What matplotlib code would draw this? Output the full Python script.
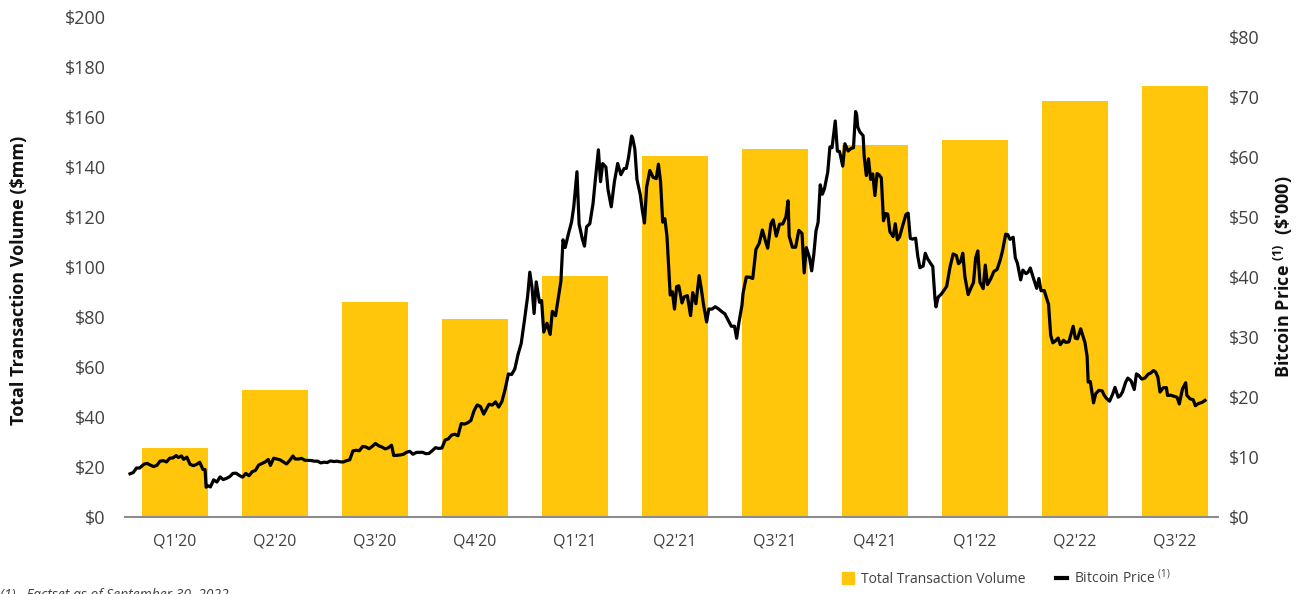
import numpy as np
import matplotlib
matplotlib.use("Agg")
import matplotlib.pyplot as plt
from matplotlib.lines import Line2D

plt.rcParams["font.family"] = ["Open Sans", "DejaVu Sans"]
plt.rcParams["mathtext.fontset"] = "custom"
plt.rcParams["mathtext.rm"] = "Open Sans"

# Quarterly transaction volume ($mm)
quarters = ["Q1'20", "Q2'20", "Q3'20", "Q4'20", "Q1'21", "Q2'21",
            "Q3'21", "Q4'21", "Q1'22", "Q2'22", "Q3'22"]
volume = [27.5, 50.8, 86.0, 79.2, 96.4, 144.3, 147.1, 148.9, 150.7, 166.3, 172.4]

left_ticks = [0, 20, 40, 60, 80, 100, 120, 140, 160, 180, 200]
right_ticks = [0, 10, 20, 30, 40, 50, 60, 70, 80]

# Bitcoin price ($'000), sampled every few days
price_dates = [
    "2020-01-01", "2020-01-04", "2020-01-07", "2020-01-10", "2020-01-14", "2020-01-17",
    "2020-01-20", "2020-01-23", "2020-01-26", "2020-01-29", "2020-02-01", "2020-02-04",
    "2020-02-07", "2020-02-10", "2020-02-13", "2020-02-15", "2020-02-18", "2020-02-20",
    "2020-02-23", "2020-02-26", "2020-02-29", "2020-03-03", "2020-03-06", "2020-03-09",
    "2020-03-11", "2020-03-12", "2020-03-14", "2020-03-16", "2020-03-19", "2020-03-22",
    "2020-03-25", "2020-03-28", "2020-03-31", "2020-04-03", "2020-04-06", "2020-04-09",
    "2020-04-12", "2020-04-15", "2020-04-18", "2020-04-21", "2020-04-24", "2020-04-27",
    "2020-04-30", "2020-05-03", "2020-05-06", "2020-05-09", "2020-05-11", "2020-05-14",
    "2020-05-17", "2020-05-20", "2020-05-23", "2020-05-26", "2020-05-29", "2020-06-01",
    "2020-06-03", "2020-06-06", "2020-06-09", "2020-06-12", "2020-06-15", "2020-06-18",
    "2020-06-21", "2020-06-24", "2020-06-27", "2020-06-30", "2020-07-03", "2020-07-06",
    "2020-07-09", "2020-07-12", "2020-07-15", "2020-07-18", "2020-07-21", "2020-07-24",
    "2020-07-27", "2020-07-30", "2020-08-02", "2020-08-05", "2020-08-08", "2020-08-11",
    "2020-08-14", "2020-08-17", "2020-08-20", "2020-08-23", "2020-08-26", "2020-08-29",
    "2020-09-01", "2020-09-03", "2020-09-06", "2020-09-09", "2020-09-12", "2020-09-15",
    "2020-09-18", "2020-09-21", "2020-09-24", "2020-09-27", "2020-09-30", "2020-10-03",
    "2020-10-06", "2020-10-09", "2020-10-12", "2020-10-15", "2020-10-18", "2020-10-21",
    "2020-10-24", "2020-10-27", "2020-10-30", "2020-11-02", "2020-11-05", "2020-11-08",
    "2020-11-11", "2020-11-14", "2020-11-17", "2020-11-20", "2020-11-23", "2020-11-26",
    "2020-11-29", "2020-12-01", "2020-12-04", "2020-12-07", "2020-12-10", "2020-12-13",
    "2020-12-16", "2020-12-19", "2020-12-22", "2020-12-25", "2020-12-28", "2020-12-31",
    "2021-01-03", "2021-01-06", "2021-01-08", "2021-01-10", "2021-01-12", "2021-01-14",
    "2021-01-17", "2021-01-19", "2021-01-21", "2021-01-24", "2021-01-27", "2021-01-29",
    "2021-02-01", "2021-02-04", "2021-02-06", "2021-02-08", "2021-02-10", "2021-02-13",
    "2021-02-16", "2021-02-18", "2021-02-21", "2021-02-23", "2021-02-26", "2021-02-28",
    "2021-03-02", "2021-03-05", "2021-03-08", "2021-03-10", "2021-03-13", "2021-03-15",
    "2021-03-17", "2021-03-20", "2021-03-22", "2021-03-25", "2021-03-28", "2021-03-31",
    "2021-04-03", "2021-04-06", "2021-04-08", "2021-04-10", "2021-04-13", "2021-04-14",
    "2021-04-16", "2021-04-18", "2021-04-21", "2021-04-23", "2021-04-25", "2021-04-27",
    "2021-04-30", "2021-05-03", "2021-05-06", "2021-05-08", "2021-05-10", "2021-05-12",
    "2021-05-14", "2021-05-16", "2021-05-17", "2021-05-19", "2021-05-21", "2021-05-23",
    "2021-05-25", "2021-05-27", "2021-05-30", "2021-06-01", "2021-06-04", "2021-06-07",
    "2021-06-09", "2021-06-12", "2021-06-15", "2021-06-17", "2021-06-19", "2021-06-22",
    "2021-06-24", "2021-06-27", "2021-06-30", "2021-07-03", "2021-07-06", "2021-07-09",
    "2021-07-12", "2021-07-15", "2021-07-18", "2021-07-20", "2021-07-22", "2021-07-25",
    "2021-07-26", "2021-07-29", "2021-08-01", "2021-08-04", "2021-08-07", "2021-08-10",
    "2021-08-13", "2021-08-16", "2021-08-18", "2021-08-21", "2021-08-23", "2021-08-26",
    "2021-08-29", "2021-09-01", "2021-09-04", "2021-09-06", "2021-09-07", "2021-09-10",
    "2021-09-13", "2021-09-16", "2021-09-19", "2021-09-21", "2021-09-23", "2021-09-26",
    "2021-09-28", "2021-09-30", "2021-10-02", "2021-10-04", "2021-10-06", "2021-10-08",
    "2021-10-10", "2021-10-13", "2021-10-15", "2021-10-17", "2021-10-20", "2021-10-22",
    "2021-10-24", "2021-10-27", "2021-10-29", "2021-11-01", "2021-11-04", "2021-11-06",
    "2021-11-08", "2021-11-09", "2021-11-10", "2021-11-12", "2021-11-15", "2021-11-16",
    "2021-11-18", "2021-11-20", "2021-11-22", "2021-11-24", "2021-11-26", "2021-11-28",
    "2021-11-30", "2021-12-02", "2021-12-04", "2021-12-06", "2021-12-08", "2021-12-10",
    "2021-12-13", "2021-12-15", "2021-12-17", "2021-12-19", "2021-12-22", "2021-12-25",
    "2021-12-27", "2021-12-29", "2021-12-31", "2022-01-03", "2022-01-05", "2022-01-07",
    "2022-01-10", "2022-01-12", "2022-01-14", "2022-01-17", "2022-01-19", "2022-01-21",
    "2022-01-22", "2022-01-24", "2022-01-27", "2022-01-30", "2022-02-01", "2022-02-04",
    "2022-02-07", "2022-02-10", "2022-02-12", "2022-02-14", "2022-02-16", "2022-02-18",
    "2022-02-21", "2022-02-24", "2022-02-26", "2022-02-28", "2022-03-02", "2022-03-04",
    "2022-03-07", "2022-03-09", "2022-03-11", "2022-03-14", "2022-03-17", "2022-03-20",
    "2022-03-23", "2022-03-25", "2022-03-28", "2022-03-30", "2022-04-01", "2022-04-04",
    "2022-04-06", "2022-04-08", "2022-04-11", "2022-04-13", "2022-04-16", "2022-04-18",
    "2022-04-20", "2022-04-23", "2022-04-26", "2022-04-28", "2022-04-30", "2022-05-03",
    "2022-05-05", "2022-05-07", "2022-05-09", "2022-05-11", "2022-05-13", "2022-05-16",
    "2022-05-18", "2022-05-21", "2022-05-23", "2022-05-26", "2022-05-30", "2022-06-01",
    "2022-06-03", "2022-06-06", "2022-06-08", "2022-06-10", "2022-06-12", "2022-06-13",
    "2022-06-15", "2022-06-18", "2022-06-20", "2022-06-23", "2022-06-26", "2022-06-28",
    "2022-06-30", "2022-07-03", "2022-07-06", "2022-07-08", "2022-07-11", "2022-07-13",
    "2022-07-15", "2022-07-18", "2022-07-20", "2022-07-23", "2022-07-26", "2022-07-28",
    "2022-07-30", "2022-08-02", "2022-08-05", "2022-08-08", "2022-08-10", "2022-08-13",
    "2022-08-15", "2022-08-17", "2022-08-19", "2022-08-22", "2022-08-25", "2022-08-26",
    "2022-08-29", "2022-09-01", "2022-09-04", "2022-09-06", "2022-09-09", "2022-09-12",
    "2022-09-13", "2022-09-16", "2022-09-19", "2022-09-21", "2022-09-24", "2022-09-27",
    "2022-09-30",
]
btc_price = [
    7.20, 7.41, 8.16, 8.17, 8.81, 8.93,
    8.65, 8.40, 8.60, 9.31, 9.39, 9.18,
    9.80, 9.85, 10.24, 9.92, 10.18, 9.61,
    9.97, 8.78, 8.56, 8.76, 9.12, 7.92,
    7.91, 4.97, 5.20, 5.01, 6.19, 5.83,
    6.68, 6.24, 6.44, 6.73, 7.27, 7.30,
    6.92, 6.64, 7.26, 6.88, 7.55, 7.76,
    8.66, 8.90, 9.16, 9.59, 8.60, 9.80,
    9.67, 9.52, 9.18, 8.84, 9.43, 10.17,
    9.67, 9.66, 9.78, 9.46, 9.43, 9.41,
    9.30, 9.31, 9.01, 9.14, 9.07, 9.35,
    9.24, 9.30, 9.19, 9.17, 9.39, 9.54,
    11.02, 11.12, 11.05, 11.75, 11.68, 11.38,
    11.77, 12.25, 11.87, 11.66, 11.35, 11.54,
    11.97, 10.25, 10.28, 10.34, 10.45, 10.80,
    10.94, 10.46, 10.75, 10.78, 10.78, 10.55,
    10.60, 11.06, 11.55, 11.43, 11.50, 12.82,
    13.03, 13.65, 13.80, 13.55, 15.57, 15.48,
    15.70, 16.07, 17.73, 18.68, 18.41, 17.15,
    18.18, 18.80, 18.65, 19.19, 18.32, 19.27,
    21.31, 23.84, 23.74, 24.66, 27.08, 28.95,
    32.78, 36.82, 40.80, 38.36, 33.92, 39.19,
    35.79, 36.07, 30.83, 32.29, 30.43, 34.27,
    33.54, 36.93, 39.27, 46.20, 44.92, 47.17,
    49.20, 51.68, 57.54, 48.82, 46.34, 45.14,
    48.38, 48.88, 52.25, 55.96, 61.19, 55.88,
    58.91, 58.33, 54.53, 51.70, 55.95, 58.92,
    57.06, 58.08, 58.09, 59.79, 63.50, 63.11,
    61.34, 56.22, 53.79, 51.09, 49.00, 54.97,
    57.75, 56.62, 56.40, 58.80, 55.86, 49.15,
    49.72, 46.76, 43.54, 37.00, 37.54, 34.66,
    38.40, 38.53, 35.68, 36.69, 36.89, 33.56,
    37.40, 35.55, 40.22, 38.05, 35.48, 32.51,
    34.66, 34.65, 35.04, 34.69, 34.24, 33.86,
    32.81, 31.79, 31.80, 29.79, 32.29, 35.35,
    37.34, 40.01, 39.97, 39.75, 44.61, 45.59,
    47.83, 45.93, 44.80, 48.90, 49.53, 46.81,
    48.81, 48.84, 50.03, 52.70, 46.81, 44.96,
    44.96, 47.77, 47.26, 40.69, 44.90, 43.21,
    41.03, 43.79, 47.63, 49.11, 55.36, 53.80,
    54.77, 57.48, 61.67, 61.55, 66.00, 60.97,
    60.93, 58.48, 62.21, 61.00, 61.46, 61.53,
    67.57, 66.97, 64.99, 64.16, 63.56, 60.09,
    56.91, 59.70, 56.28, 57.17, 53.57, 57.24,
    57.01, 56.51, 49.37, 50.58, 50.47, 47.54,
    46.74, 48.88, 46.20, 46.68, 48.62, 50.43,
    50.64, 46.44, 46.31, 46.46, 43.45, 41.55,
    41.82, 43.95, 43.10, 42.25, 41.74, 36.46,
    35.03, 36.65, 37.16, 37.92, 38.48, 41.57,
    43.84, 43.57, 42.21, 42.59, 43.96, 40.00,
    37.07, 38.33, 39.10, 43.19, 44.35, 39.15,
    38.06, 41.98, 38.73, 39.67, 40.92, 41.25,
    42.89, 44.33, 47.13, 47.06, 46.28, 46.62,
    43.21, 42.27, 39.52, 41.15, 40.55, 40.82,
    41.50, 39.74, 38.11, 39.75, 37.71, 37.75,
    36.57, 35.47, 30.30, 29.03, 29.28, 29.83,
    28.72, 29.45, 29.11, 29.19, 31.79, 29.80,
    29.70, 31.37, 30.21, 29.07, 26.76, 22.49,
    22.57, 19.02, 20.55, 21.11, 21.03, 20.28,
    19.78, 19.30, 20.55, 21.61, 19.97, 20.23,
    20.83, 22.48, 23.15, 22.69, 21.25, 23.85,
    23.63, 22.98, 23.17, 23.81, 23.96, 24.40,
    24.14, 23.34, 20.83, 21.53, 21.57, 20.26,
    20.30, 20.13, 19.95, 18.84, 21.36, 22.37,
    20.30, 19.70, 19.54, 18.55, 18.93, 19.08,
    19.43,
]

BAR_COLOR = "#FFC60B"
TICK_COLOR = "#404040"
AXIS_COLOR = "#8C8C8C"

fig = plt.figure(figsize=(12.99, 5.94), dpi=100)
rect = [125 / 1299, 77 / 594, 1093 / 1299, 500 / 594]

# Bars: quarterly volume on the left axis
ax = fig.add_axes(rect)
xpos = np.arange(len(quarters))
ax.bar(xpos, volume, width=0.66, color=BAR_COLOR, zorder=2)
ax.set_xlim(-0.495, len(quarters) - 0.565)
ax.set_ylim(0, 200)
ax.set_xticks(xpos)
ax.set_xticklabels(quarters, fontsize=11.5, color=TICK_COLOR)
ax.set_yticks(left_ticks)
ax.set_yticklabels([f"${v}" for v in left_ticks], fontsize=13, color=TICK_COLOR)
ax.tick_params(axis="both", length=0)
ax.tick_params(axis="y", pad=14)
ax.tick_params(axis="x", pad=12)
for side in ("top", "right", "left"):
    ax.spines[side].set_visible(False)
ax.spines["bottom"].set_color(AXIS_COLOR)
ax.spines["bottom"].set_linewidth(1.5)
ax.set_ylabel("Total Transaction Volume ($mm)", fontsize=13, fontweight="bold",
              color="#111111")
ax.yaxis.set_label_coords(-0.089, 0.474)

# Line: daily bitcoin price on the right axis, over a date axis
ax2 = fig.add_axes(rect)
ax2.patch.set_visible(False)
dates = np.array(price_dates, dtype="datetime64[D]")
ax2.plot(dates, btc_price, color="black", lw=2.3, zorder=3, solid_joinstyle="round")
ax2.set_xlim(np.datetime64("2019-12-27T07:00"), np.datetime64("2022-10-12T03:00"))
ax2.set_ylim(0, 500 / 6)
ax2.xaxis.set_visible(False)
ax2.yaxis.tick_right()
ax2.yaxis.set_label_position("right")
ax2.set_yticks(right_ticks)
ax2.set_yticklabels([f"${v}" for v in right_ticks], fontsize=13, color=TICK_COLOR)
ax2.tick_params(axis="y", length=0, pad=8)
for side in ("top", "right", "left", "bottom"):
    ax2.spines[side].set_visible(False)
ax2.set_ylabel(r"Bitcoin Price $^{\mathregular{(1)}}$  (\$'000)", fontsize=13,
               fontweight="bold", color="#111111")
ax2.yaxis.set_label_coords(1.0495, 0.48)

# Legend along the bottom right
handles = [
    Line2D([], [], marker="s", linestyle="none", color=BAR_COLOR, markersize=8.5),
    Line2D([], [], color="black", lw=3),
]
labels = ["Total Transaction Volume", r"Bitcoin Price $^{\mathregular{(1)}}$"]
fig.legend(handles, labels, loc="center left", bbox_to_anchor=(830 / 1299, 16 / 594),
           ncol=2, frameon=False, fontsize=10, handlelength=0.8, handletextpad=0.5,
           columnspacing=2.2, labelcolor=TICK_COLOR)

# Source footnote
fig.text(0 / 1299, 6 / 594, "(1)   Factset as of September 30, 2022", fontsize=10,
         style="italic", color="#404040", va="top", ha="left")

fig.savefig("out.png", dpi=100)
